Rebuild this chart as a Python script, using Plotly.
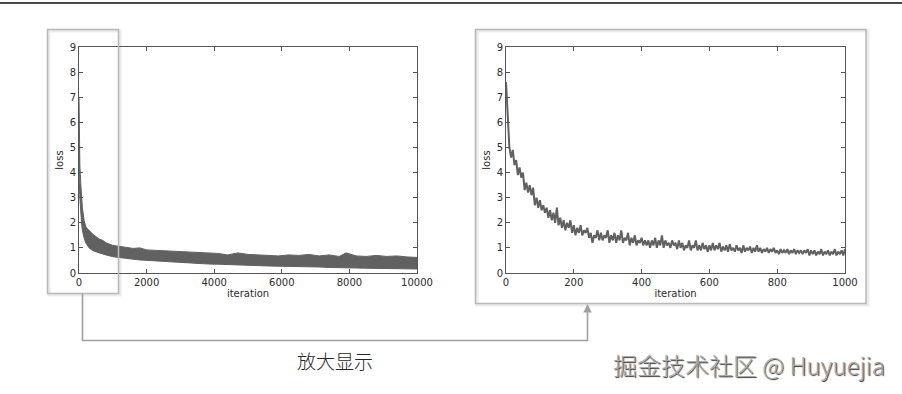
import plotly.graph_objects as go

W, H = 902, 394

# ---------------- data ----------------
# full run (0-10000): dense noisy band, read as upper / lower envelopes
full_iter = [0, 10, 25, 50, 75, 100, 150, 200, 250, 300, 400, 500, 600, 700, 800,
             1000, 1200, 1400, 1600, 1800, 2000, 2300, 2600, 2900, 3200, 3500,
             3800, 4100, 4400, 4700, 5000, 5300, 5600, 5900, 6200, 6500, 6800,
             7100, 7400, 7700, 7900, 8200, 8500, 8800, 9100, 9400, 9700, 10000]
full_upper = [7.0, 5.4, 4.3, 3.6, 3.0, 2.6, 2.1, 1.85, 1.75, 1.7, 1.55, 1.45, 1.35, 1.3, 1.2,
              1.1, 1.05, 1.0, 0.98, 1.0, 0.92, 0.9, 0.88, 0.85, 0.84, 0.82,
              0.8, 0.78, 0.72, 0.8, 0.74, 0.72, 0.7, 0.68, 0.72, 0.7, 0.74,
              0.68, 0.72, 0.66, 0.8, 0.68, 0.66, 0.7, 0.66, 0.68, 0.64, 0.62]
full_lower = [5.0, 3.6, 3.0, 2.4, 2.0, 1.7, 1.4, 1.2, 1.1, 1.0, 0.9, 0.85, 0.8, 0.75, 0.72,
              0.65, 0.6, 0.58, 0.55, 0.52, 0.48, 0.46, 0.44, 0.42, 0.4, 0.38,
              0.36, 0.35, 0.33, 0.32, 0.3, 0.3, 0.28, 0.27, 0.26, 0.25, 0.24,
              0.24, 0.22, 0.21, 0.2, 0.2, 0.19, 0.18, 0.18, 0.17, 0.16, 0.16]

# zoomed run (0-1000), one reading every 5 iterations
zoom_iter = list(range(0, 1001, 5))
zoom_loss = [
    7.6, 6.1, 5.0, 4.6, 4.9, 4.3, 4.5, 3.9, 4.2, 3.8, 4.0, 3.3, 3.6, 3.2, 3.5, 3.1, 3.4, 2.7, 3.0, 2.6,
    2.9, 2.5, 2.7, 2.4, 2.6, 2.2, 2.5, 2.1, 2.4, 2.0, 2.6, 1.9, 2.2, 1.8, 2.1, 1.7, 2.0, 1.8, 2.1, 1.6,
    1.9, 1.5, 1.8, 1.6, 1.9, 1.5, 1.7, 1.6, 1.8, 1.4, 1.6, 1.2, 1.5, 1.4, 1.7, 1.3, 1.6, 1.3, 1.5, 1.4,
    1.7, 1.2, 1.5, 1.3, 1.6, 1.2, 1.5, 1.3, 1.7, 1.2, 1.4, 1.3, 1.6, 1.1, 1.4, 1.2, 1.5, 1.1, 1.3, 1.2,
    1.4, 1.1, 1.3, 1.1, 1.3, 1.0, 1.3, 1.1, 1.4, 1.0, 1.3, 1.1, 1.5, 1.0, 1.3, 1.1, 1.2, 1.0, 1.3, 1.1,
    1.2, 0.95, 1.3, 1.0, 1.2, 0.9, 1.1, 1.0, 1.3, 0.9, 1.1, 1.0, 1.3, 0.9, 1.1, 0.9, 1.2, 0.95, 1.1, 0.85,
    1.1, 0.9, 1.2, 0.9, 1.1, 0.95, 1.2, 0.85, 1.05, 0.9, 1.1, 0.85, 1.15, 0.9, 1.0, 0.85, 1.1, 0.9, 1.0, 0.8,
    1.1, 0.85, 1.0, 0.9, 1.05, 0.8, 1.0, 0.85, 1.1, 0.85, 1.0, 0.8, 0.95, 0.85, 1.0, 0.8, 0.95, 0.85, 1.0, 0.8,
    0.9, 0.75, 0.95, 0.8, 0.9, 0.8, 0.95, 0.75, 0.9, 0.8, 0.95, 0.75, 0.9, 0.8, 0.9, 0.75, 0.9, 0.8, 0.95, 0.7,
    0.9, 0.75, 0.9, 0.7, 0.85, 0.75, 0.95, 0.7, 0.85, 0.75, 0.9, 0.7, 0.85, 0.75, 0.95, 0.7, 0.85, 0.75, 0.9, 0.7,
    0.95]

y_ticks = [0, 1, 2, 3, 4, 5, 6, 7, 8, 9]
full_x_ticks = [0, 2000, 4000, 6000, 8000, 10000]
full_x_labels = ["0", "2000", "4000", "6000", "8000", "10000"]
zoom_x_ticks = [0, 200, 400, 600, 800, 1000]
zoom_x_labels = ["0", "200", "400", "600", "800", "1000"]

LINE = "#616161"
TICKFONT = dict(family="DejaVu Sans", size=10, color="#2b2b2b")
TITLEFONT = dict(family="DejaVu Sans", size=10, color="#2b2b2b")


def px(x):
    return x / W


def py(y):
    return 1 - y / H


fig = go.Figure()

# left: band as filled polygon
band_x = full_iter + full_iter[::-1]
band_y = full_upper + full_lower[::-1]
fig.add_trace(go.Scatter(x=band_x, y=band_y, fill="toself", fillcolor=LINE,
                         line=dict(color=LINE, width=1), mode="lines",
                         xaxis="x", yaxis="y", hoverinfo="skip", showlegend=False))
# right: noisy line
fig.add_trace(go.Scatter(x=zoom_iter, y=zoom_loss, mode="lines",
                         line=dict(color=LINE, width=2),
                         xaxis="x2", yaxis="y2", showlegend=False))

axis_common = dict(showgrid=False, zeroline=False, showline=True, linecolor="#555555",
                   linewidth=1, mirror="allticks", ticks="inside", ticklen=4,
                   tickcolor="#555555", tickfont=TICKFONT, automargin=False)

L_X0, L_X1 = 79, 417
R_X0, R_X1 = 506, 845
Y0, Y1 = 47, 273

fig.update_layout(
    width=W, height=H, margin=dict(l=0, r=0, t=0, b=0, pad=0, autoexpand=False),
    paper_bgcolor="white", plot_bgcolor="white",
    xaxis=dict(domain=[px(L_X0), px(L_X1)], range=[0, 10000], tickvals=full_x_ticks,
               ticktext=full_x_labels,
               title=dict(text="iteration", font=TITLEFONT, standoff=2), anchor="y", **axis_common),
    yaxis=dict(domain=[py(Y1), py(Y0)], range=[0, 9], tickvals=y_ticks,
               title=dict(text="loss", font=TITLEFONT, standoff=4), anchor="x", **axis_common),
    xaxis2=dict(domain=[px(R_X0), px(R_X1)], range=[0, 1000], tickvals=zoom_x_ticks,
                ticktext=zoom_x_labels,
                title=dict(text="iteration", font=TITLEFONT, standoff=2), anchor="y2", **axis_common),
    yaxis2=dict(domain=[py(Y1), py(Y0)], range=[0, 9], tickvals=y_ticks,
                title=dict(text="loss", font=TITLEFONT, standoff=4), anchor="x2", **axis_common),
)

shapes = []
# top rule
shapes.append(dict(type="line", xref="paper", yref="paper", x0=0, x1=1, y0=py(3), y1=py(3),
                   line=dict(color="#4a4a4a", width=2)))
# soft shadows of frames
shapes.append(dict(type="rect", xref="paper", yref="paper", x0=px(49), x1=px(120), y0=py(295), y1=py(31),
                   line=dict(color="rgba(0,0,0,0.08)", width=3), layer="below"))
shapes.append(dict(type="rect", xref="paper", yref="paper", x0=px(477), x1=px(868), y0=py(305), y1=py(31),
                   line=dict(color="rgba(0,0,0,0.08)", width=3), layer="below"))
# highlight frames
shapes.append(dict(type="rect", xref="paper", yref="paper", x0=px(47.5), x1=px(118.5), y0=py(293.5), y1=py(29.5),
                   line=dict(color="#b9b9b9", width=1.6)))
shapes.append(dict(type="rect", xref="paper", yref="paper", x0=px(475.5), x1=px(866), y0=py(303.5), y1=py(29.5),
                   line=dict(color="#b9b9b9", width=1.6)))
# connector
shapes.append(dict(type="path", xref="paper", yref="paper",
                   path=f"M {px(82.5)} {py(293.5)} L {px(82.5)} {py(340.5)} L {px(587.5)} {py(340.5)} L {px(587.5)} {py(312)}",
                   line=dict(color="#a0a0a0", width=1.6)))
fig.update_layout(shapes=shapes)

annotations = [
    dict(x=px(587.5), y=py(304), xref="paper", yref="paper", ax=0, ay=10, axref="pixel", ayref="pixel",
         showarrow=True, arrowhead=2, arrowsize=1.2, arrowwidth=1.4, arrowcolor="#a0a0a0", text=""),
    dict(x=px(335), y=py(360.5), xref="paper", yref="paper", xanchor="center", yanchor="middle",
         text="放大显示", showarrow=False,
         font=dict(family="Noto Sans CJK SC", size=19, weight=300, color="#262626")),
    dict(x=px(887), y=py(364), xref="paper", yref="paper", xanchor="right", yanchor="middle",
         text="掘金技术社区 @ Huyuejia", showarrow=False,
         font=dict(family="Noto Sans CJK SC", size=24, weight=300, color="#a9a9a9",
                   shadow="1px 1px 1px #333")),
]
fig.update_layout(annotations=annotations)

fig.write_html("out.html")
